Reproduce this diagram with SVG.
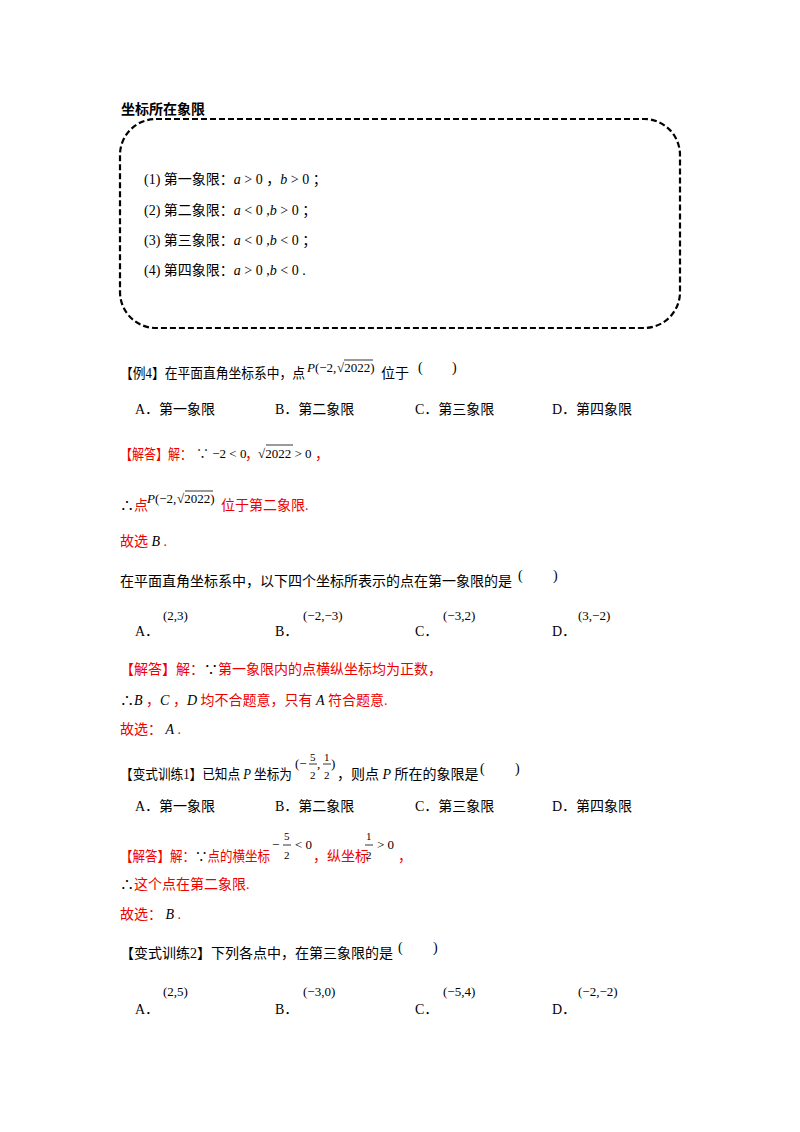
<svg xmlns="http://www.w3.org/2000/svg" width="800" height="1132" viewBox="0 0 800 1132">
<style>
text{font-family:"Liberation Serif","Noto Sans CJK SC",serif;font-size:14px;fill:#000}
.r{fill:#e00}
.b{font-weight:bold;font-family:"Liberation Sans","Noto Sans CJK SC",sans-serif}
.i{font-style:italic}
.s{font-size:13px}
.m{font-size:13px}
.f{font-size:11px}
.ln{stroke:#000;stroke-width:0.8}
</style>
<rect width="800" height="1132" fill="#fff"/>
<text x="121" y="114" class="b">坐标所在象限</text>
<rect x="120" y="119" width="560" height="209" rx="36" fill="none" stroke="#000" stroke-width="2.2" stroke-dasharray="6,3"/>
<g class="s">
<text x="144" y="184">(1) 第一象限：<tspan class="i">a</tspan> &gt; 0 ，<tspan class="i">b</tspan> &gt; 0 ；</text>
<text x="144" y="215">(2) 第二象限：<tspan class="i">a</tspan> &lt; 0 ,<tspan class="i">b</tspan> &gt; 0 ；</text>
<text x="144" y="245">(3) 第三象限：<tspan class="i">a</tspan> &lt; 0 ,<tspan class="i">b</tspan> &lt; 0 ；</text>
<text x="144" y="275">(4) 第四象限：<tspan class="i">a</tspan> &gt; 0 ,<tspan class="i">b</tspan> &lt; 0 .</text>
</g>

<text x="120" y="378" textLength="185" lengthAdjust="spacingAndGlyphs">【例4】在平面直角坐标系中，点</text>
<text x="307" y="372" class="m"><tspan class="i">P</tspan>(−2,</text><text x="337" y="372" class="m">√2022)</text>
<line x1="344" y1="360" x2="373" y2="360" class="ln"/>
<text x="381" y="378">位于</text><text x="418" y="372">(</text><text x="452" y="372">)</text>
<text x="135" y="414">A．第一象限</text><text x="275" y="414">B．第二象限</text><text x="415" y="414">C．第三象限</text><text x="552" y="414">D．第四象限</text>

<text x="120" y="459" class="r" textLength="72" lengthAdjust="spacingAndGlyphs">【解答】解：</text>
<text x="196" y="458" class="m">∵ −2 &lt; 0</text><text x="245" y="459" class="r">，</text>
<text x="258" y="458" class="m">√2022 &gt; 0</text><text x="315" y="459" class="r">，</text>
<line x1="266" y1="445" x2="293" y2="445" class="ln"/>
<text x="120" y="510">∴<tspan class="r">点</tspan></text>
<text x="147" y="503" class="m"><tspan class="i">P</tspan>(−2,</text><text x="177" y="503" class="m">√2022)</text>
<line x1="185" y1="491" x2="213" y2="491" class="ln"/>
<text x="221" y="510" class="r">位于第二象限.</text>
<text x="120" y="546" class="r">故选 <tspan fill="#000" class="i">B</tspan> .</text>

<text x="120" y="586">在平面直角坐标系中，以下四个坐标所表示的点在第一象限的是</text><text x="518" y="580">(</text><text x="553" y="580">)</text>
<text x="163" y="620" class="m">(2,3)</text><text x="303" y="620" class="m">(−2,−3)</text><text x="443" y="620" class="m">(−3,2)</text><text x="578" y="620" class="m">(3,−2)</text>
<text x="135" y="636">A．</text><text x="275" y="636">B．</text><text x="415" y="636">C．</text><text x="552" y="636">D．</text>

<text x="120" y="674" class="r">【解答】解：<tspan fill="#000">∵</tspan>第一象限内的点横纵坐标均为正数，</text>
<text x="120" y="705" class="r"><tspan fill="#000">∴</tspan><tspan fill="#000" class="i">B</tspan> ，<tspan fill="#000" class="i">C</tspan> ，<tspan fill="#000" class="i">D</tspan> 均不合题意，只有 <tspan fill="#000" class="i">A</tspan> 符合题意.</text>
<text x="120" y="734" class="r">故选： <tspan fill="#000" class="i">A</tspan> .</text>

<text x="120" y="779" textLength="172" lengthAdjust="spacingAndGlyphs">【变式训练1】已知点 <tspan class="i">P</tspan> 坐标为</text>
<text x="295" y="768" class="m">(−</text><text x="310" y="761" class="f">5</text><text x="317" y="768" class="m">,</text><text x="324" y="761" class="f">1</text><text x="331" y="768" class="m">)</text>
<line x1="309" y1="764" x2="317" y2="764" class="ln"/><line x1="323" y1="764" x2="331" y2="764" class="ln"/>
<text x="310" y="779" class="f">2</text><text x="324" y="779" class="f">2</text>
<text x="337" y="779">，则点 <tspan class="i">P</tspan> 所在的象限是</text><text x="480" y="773">(</text><text x="515" y="773">)</text>
<text x="135" y="811">A．第一象限</text><text x="275" y="811">B．第二象限</text><text x="415" y="811">C．第三象限</text><text x="552" y="811">D．第四象限</text>

<text x="120" y="861" class="r" textLength="150" lengthAdjust="spacingAndGlyphs">【解答】解：<tspan fill="#000">∵</tspan>点的横坐标</text>
<text x="272" y="849" class="m">−</text><text x="284" y="840" class="f">5</text><line x1="283" y1="845" x2="291" y2="845" class="ln"/><text x="284" y="859" class="f">2</text><text x="295" y="849" class="m">&lt; 0</text>
<text x="313" y="861" class="r">，纵坐标</text>
<text x="366" y="840" class="f">1</text><line x1="365" y1="845" x2="373" y2="845" class="ln"/><text x="366" y="859" class="f">2</text><text x="377" y="849" class="m">&gt; 0</text>
<text x="398" y="861" class="r">，</text>
<text x="120" y="889" class="r"><tspan fill="#000">∴</tspan>这个点在第二象限.</text>
<text x="120" y="919" class="r">故选： <tspan fill="#000" class="i">B</tspan> .</text>

<text x="120" y="958">【变式训练2】下列各点中，在第三象限的是</text><text x="398" y="952">(</text><text x="433" y="952">)</text>
<text x="163" y="996" class="m">(2,5)</text><text x="303" y="996" class="m">(−3,0)</text><text x="443" y="996" class="m">(−5,4)</text><text x="578" y="996" class="m">(−2,−2)</text>
<text x="135" y="1014">A．</text><text x="275" y="1014">B．</text><text x="415" y="1014">C．</text><text x="552" y="1014">D．</text>
</svg>
